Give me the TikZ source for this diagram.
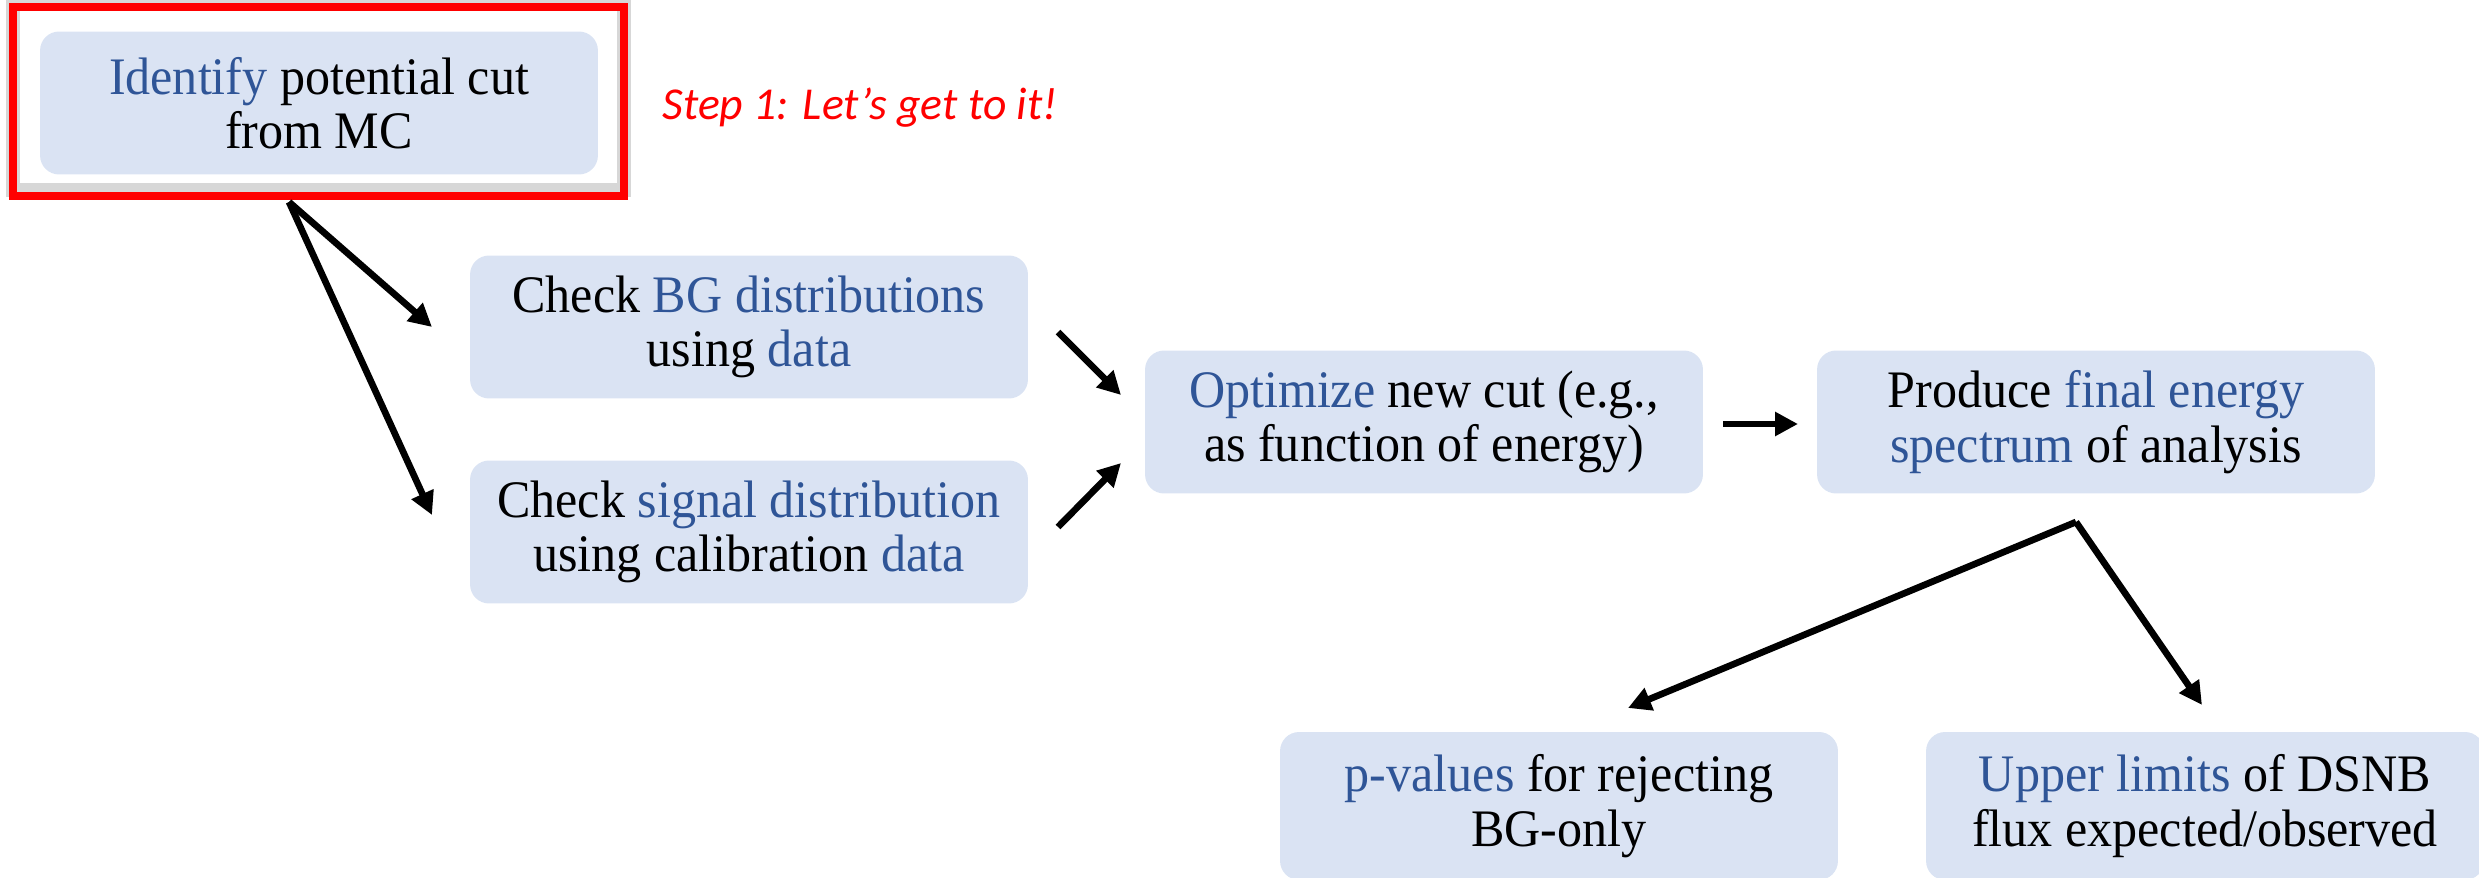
\documentclass[tikz,border=0pt]{standalone}
\usepackage{fontspec}
\setmainfont{Liberation Serif}[FakeStretch=0.95]
\newfontfamily\notefont{Carlito}
\usetikzlibrary{arrows.meta,positioning}
\definecolor{boxfill}{HTML}{DAE3F3}
\definecolor{kwblue}{HTML}{2F5597}
\newcommand{\kw}[1]{\textcolor{kwblue}{#1}}
\tikzset{
  box/.style={fill=boxfill, rounded corners=0.38cm, minimum width=11.16cm,
    minimum height=2.86cm, align=center, font=\fontsize{30}{31}\selectfont},
  arr/.style={line width=3.8pt, -{Triangle[length=0.46cm,width=0.46cm]}},
}
\begin{document}
\begin{tikzpicture}[x=0.02cm,y=-0.02cm]
  \useasboundingbox (0,0) rectangle (2479,878);
  \clip (0,0) rectangle (2479,878);
  %boxes
  \node[box] (ident) at (319,103) {\kw{Identify} potential cut\\from MC};
  \node[box] (bg) at (749,327) {Check \kw{BG distributions}\\using \kw{data}};
  \node[box] (sig) at (749,532) {Check \kw{signal distribution}\\using calibration \kw{data}};
  \node[box] (opt) at (1424,422) {\kw{Optimize} new cut (e.g.,\\as function of energy)};
  \node[box] (prod) at (2096,422) {Produce \kw{final energy}\\\kw{spectrum} of analysis};
  \node[box, minimum height=2.96cm] (pval) at (1559,806) {\kw{p-values} for rejecting\\BG-only};
  \node[box, minimum height=2.96cm] (upper) at (2205,806) {\kw{Upper limits} of DSNB\\flux expected/observed};
  %cornice
  \draw[gray!45, line width=8pt, opacity=0.7] (13,3) rectangle (624,190);
  \draw[red, line width=4.5pt] (ident.north west) ++(-27,-24) rectangle (624,196);
  \node[red, font=\notefont\itshape\fontsize{26}{31}\selectfont] (step) at (860,108) {Step 1: Let’s get to it!};
  %frecce
  \coordinate (fork1) at (289,202);
  \coordinate (bgtip) at (432,327);
  \coordinate (sigtip) at (432,515);
  \coordinate (bgout) at (1058,332);
  \coordinate (sigout) at (1058,527);
  \coordinate (optin1) at (1121,395);
  \coordinate (optin2) at (1121,463);
  \coordinate (optout) at (1723,424);
  \coordinate (prodin) at (1798,424);
  \coordinate (fork2) at (2076,522);
  \coordinate (pvaltip) at (1628,708);
  \coordinate (uppertip) at (2202,705);
  \draw[arr] (fork1) -- (bgtip);
  \draw[arr] (fork1) -- (sigtip);
  \draw[arr] (bgout) -- (optin1);
  \draw[arr] (sigout) -- (optin2);
  \draw[arr] (optout) -- (prodin);
  \draw[arr] (fork2) -- (pvaltip);
  \draw[arr] (fork2) -- (uppertip);
\end{tikzpicture}
\end{document}
